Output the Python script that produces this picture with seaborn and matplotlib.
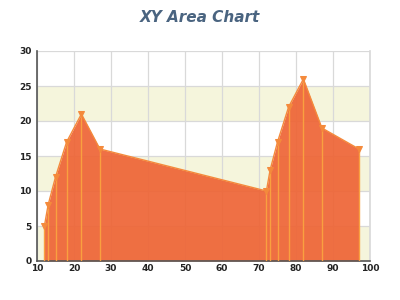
import matplotlib
matplotlib.use("Agg")
import matplotlib.pyplot as plt
import seaborn as sns
import pandas as pd

x_vals = [12, 13, 15, 18, 22, 27, 72, 73, 75, 78, 82, 87, 97]
y_vals = [5, 8, 12, 17, 21, 16, 10, 13, 17, 22, 26, 19, 16]
title = "XY Area Chart"
x_ticks = [10, 20, 30, 40, 50, 60, 70, 80, 90, 100]
y_ticks = [0, 5, 10, 15, 20, 25, 30]

df = pd.DataFrame({"x": x_vals, "y": y_vals})

sns.set_theme(style="white")
plt.rcParams['font.family'] = ['DejaVu Sans']

fig = plt.figure(figsize=(4, 3), dpi=100)
ax = fig.add_axes([0.0925, 0.13, 0.8325, 0.70])

# alternating bands
for lo in [0, 10, 20]:
    ax.axhspan(lo, lo + 5, color="#F5F5DC", zorder=0, lw=0)

ax.set_xlim(10, 100)
ax.set_ylim(0, 30)
ax.set_xticks(x_ticks)
ax.set_yticks(y_ticks)
ax.grid(True, color="#D9D9D9", lw=0.9, zorder=1)
ax.set_axisbelow(True)

ax.fill_between(df["x"], df["y"], 0, color="#EE6435", alpha=0.92, lw=0, zorder=2)
ax.vlines(df["x"], 0, df["y"], color="#F9A03F", lw=1.0, zorder=3)
sns.lineplot(data=df, x="x", y="y", ax=ax, color="#F48A3C", lw=1.0, zorder=4,
             marker="v", markersize=5, markerfacecolor="#F48A3C",
             markeredgecolor="#F48A3C")

ax.set_xlabel("")
ax.set_ylabel("")
for s in ["top"]:
    ax.spines[s].set_visible(False)
ax.spines["right"].set_color("#D9D9D9")
ax.spines["left"].set_color("#555555")
ax.spines["bottom"].set_color("#555555")
ax.spines["left"].set_linewidth(1.2)
ax.spines["bottom"].set_linewidth(1.2)

ax.tick_params(axis="y", direction="out", length=3, width=0.8, color="#555555",
               labelsize=6.5, pad=1, labelcolor="#222222")
ax.tick_params(axis="x", direction="in", length=3, width=0.8, color="#555555",
               labelsize=6.5, pad=2, labelcolor="#222222")
for lab in ax.get_xticklabels() + ax.get_yticklabels():
    lab.set_fontweight("bold")

fig.text(0.5, 0.94, title, ha="center", va="center", fontsize=11,
         fontweight="bold", fontstyle="italic", color="#4A6480")

fig.savefig("out.png", dpi=100)
